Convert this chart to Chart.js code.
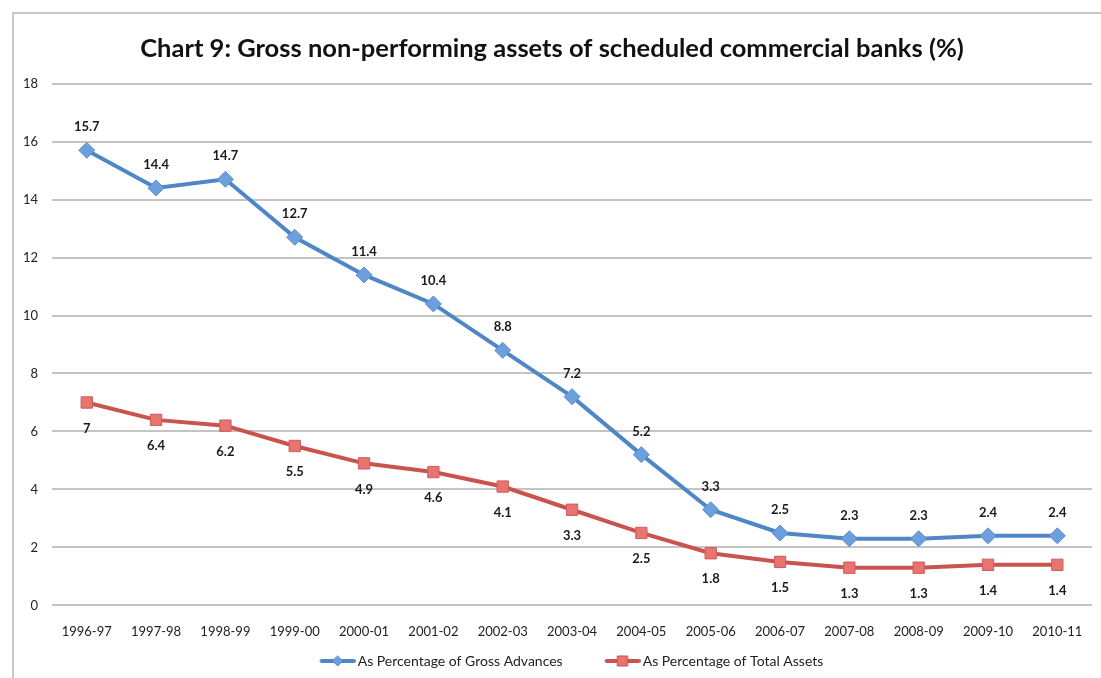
<!DOCTYPE html>
<html>
<head>
<meta charset="utf-8">
<script src="https://cdn.jsdelivr.net/npm/chart.js@4"></script>
<style>
  html, body { margin: 0; padding: 0; background: #fff; }
  #wrap { width: 1101px; height: 678px; }
</style>
</head>
<body>
<div id="wrap"><canvas id="npaChart" width="1101" height="678"></canvas></div>
<script>
const years = ["1996-97", "1997-98", "1998-99", "1999-00", "2000-01", "2001-02", "2002-03",
    "2003-04", "2004-05", "2005-06", "2006-07", "2007-08", "2008-09", "2009-10", "2010-11"];
const grossAdvances = [15.7, 14.4, 14.7, 12.7, 11.4, 10.4, 8.8, 7.2, 5.2, 3.3, 2.5, 2.3, 2.3, 2.4, 2.4];
const totalAssets = [7, 6.4, 6.2, 5.5, 4.9, 4.6, 4.1, 3.3, 2.5, 1.8, 1.5, 1.3, 1.3, 1.4, 1.4];

const FONT = "Lato, 'Open Sans', sans-serif";
const blueLine = "#4f86c6";
const blueFill = "#6d9fdc";
const redLine = "#c9534f";
const redFill = "#e77471";

// legend swatch: line with the marker on top, blank room on the left as item gap
const makeSwatch = (line, fill, shape) => {
    const c = document.createElement("canvas");
    c.width = 80;
    c.height = 12;
    const g = c.getContext("2d");
    g.strokeStyle = line;
    g.lineWidth = 4;
    g.lineCap = "round";
    g.beginPath();
    g.moveTo(46, 6);
    g.lineTo(78, 6);
    g.stroke();
    g.fillStyle = fill;
    g.strokeStyle = line;
    g.lineWidth = 1;
    g.beginPath();
    if (shape === "diamond") {
        g.moveTo(62, 1); g.lineTo(67, 6); g.lineTo(62, 11); g.lineTo(57, 6); g.closePath();
    } else {
        g.rect(57, 1, 10, 10);
    }
    g.fill();
    g.stroke();
    return c;
};

const frame = {
    id: "frame",
    beforeDraw(chart) {
        const ctx = chart.ctx;
        ctx.save();
        ctx.strokeStyle = "#c8c8c8";
        ctx.lineWidth = 2;
        ctx.beginPath();
        ctx.moveTo(13, 700);
        ctx.lineTo(13, 13);
        ctx.lineTo(1110, 13);
        ctx.stroke();
        ctx.restore();
    }
};

const valueLabels = {
    id: "valueLabels",
    afterDatasetsDraw(chart) {
        const ctx = chart.ctx;
        ctx.save();
        ctx.font = "bold 13px " + FONT;
        ctx.fillStyle = "#1a1a1a";
        ctx.textAlign = "center";
        ctx.textBaseline = "middle";
        chart.data.datasets.forEach((ds, i) => {
            const meta = chart.getDatasetMeta(i);
            const off = i === 0 ? -23 : 26;
            meta.data.forEach((pt, j) => {
                ctx.fillText(String(ds.data[j]), pt.x, pt.y + off);
            });
        });
        ctx.restore();
    }
};

const ctx = document.getElementById("npaChart").getContext("2d");

const npaChart = new Chart(ctx, {
    type: "line",
    data: {
        labels: years,
        datasets: [
            {
                label: "As Percentage of Gross Advances",
                data: grossAdvances,
                borderColor: blueLine,
                backgroundColor: blueFill,
                pointBorderColor: "#5b8fd0",
                borderWidth: 4,
                pointStyle: "rectRot",
                pointRadius: 8,
                pointHoverRadius: 8,
                pointBorderWidth: 1,
                tension: 0
            },
            {
                label: "As Percentage of Total Assets",
                data: totalAssets,
                borderColor: redLine,
                backgroundColor: redFill,
                pointBorderColor: "#d05a56",
                borderWidth: 4,
                pointStyle: "rect",
                pointRadius: 8,
                pointHoverRadius: 8,
                pointBorderWidth: 1,
                tension: 0
            }
        ]
    },
    options: {
        responsive: false,
        animation: false,
        layout: {
            padding: { top: 33, left: 9, right: 6, bottom: 0 }
        },
        plugins: {
            title: {
                display: true,
                text: "Chart 9: Gross non-performing assets of scheduled commercial banks (%)",
                color: "#111",
                font: { family: FONT, size: 25.5, weight: "bold" },
                padding: { top: 0, bottom: 20 }
            },
            legend: {
                position: "bottom",
                labels: {
                    color: "#222",
                    font: { family: FONT, size: 14 },
                    usePointStyle: true,
                    pointStyleWidth: 70,
                    padding: 3,
                    generateLabels: (chart) => [
                        { text: "As Percentage of Gross Advances", pointStyle: makeSwatch(blueLine, blueFill, "diamond"), datasetIndex: 0, fontColor: "#222" },
                        { text: "As Percentage of Total Assets", pointStyle: makeSwatch(redLine, redFill, "square"), datasetIndex: 1, fontColor: "#222" }
                    ]
                }
            },
            tooltip: { enabled: false }
        },
        scales: {
            x: {
                offset: true,
                grid: { display: false },
                border: { display: false },
                ticks: {
                    color: "#222",
                    font: { family: FONT, size: 13 },
                    maxRotation: 0,
                    padding: 11
                }
            },
            y: {
                min: 0,
                max: 18,
                ticks: {
                    stepSize: 2,
                    color: "#222",
                    font: { family: FONT, size: 13 },
                    padding: 14
                },
                grid: { color: "#c4c4c4", lineWidth: 2, drawTicks: false },
                border: { display: false }
            }
        }
    },
    plugins: [frame, valueLabels]
});
</script>
</body>
</html>
